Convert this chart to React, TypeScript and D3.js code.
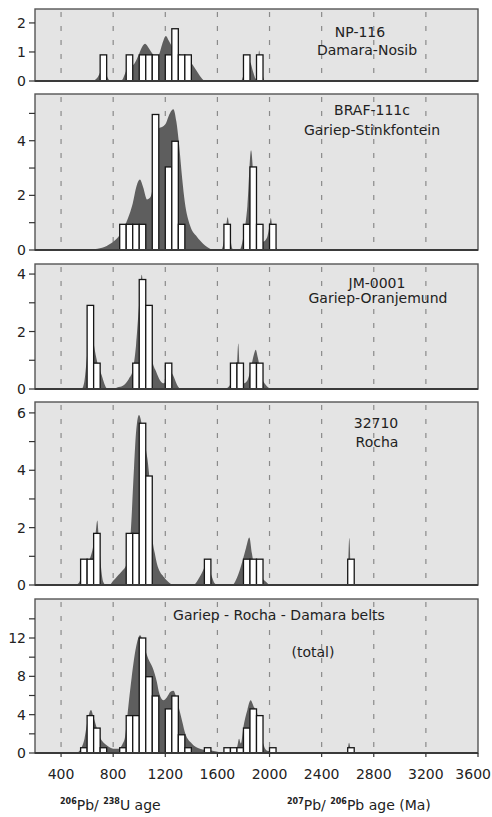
import * as d3 from "d3";
import React from "react";

// age axis (Ma)
const ageTicks = [400, 800, 1200, 1600, 2000, 2400, 2800, 3200, 3600];
const gridAges = [400, 800, 1200, 1600, 2000, 2400, 2800, 3200];
const binWidth = 50;

// NP-116 Damara-Nosib : [bin start, count]
const np116Bars = [
  [700, 0.9], [900, 0.9], [1000, 0.9], [1050, 0.9], [1100, 0.9], [1200, 0.9],
  [1250, 1.8], [1300, 0.9], [1350, 0.9], [1800, 0.9], [1900, 0.9],
];
const np116Density = [
  [650, 0], [700, 0.3], [725, 0.7], [750, 0.2], [780, 0],
  [860, 0], [900, 0.35], [925, 0.6], [950, 0.55], [975, 0.7], [1000, 0.95],
  [1025, 1.2], [1045, 1.28], [1070, 1.15], [1100, 0.95], [1130, 0.85], [1150, 0.9],
  [1175, 1.25], [1205, 1.55], [1225, 1.4], [1250, 1.2], [1300, 0.95], [1350, 0.85],
  [1400, 0.62], [1440, 0.35], [1475, 0.12], [1505, 0],
  [1780, 0], [1820, 0.5], [1850, 0.65], [1875, 0.3], [1895, 0.08], [1910, 0.4],
  [1920, 1.05], [1935, 0.5], [1960, 0],
];

// BRAF-111c Gariep-Stinkfontein
const brafBars = [
  [850, 0.94], [900, 0.94], [950, 0.94], [1000, 0.94], [1100, 4.96], [1200, 3.04],
  [1250, 3.98], [1300, 0.94], [1650, 0.94], [1800, 0.94], [1850, 3.04], [1900, 0.94],
  [2000, 0.94],
];
const brafDensity = [
  [600, 0], [680, 0.05], [750, 0.15], [800, 0.3], [850, 0.55], [900, 1.0], [950, 1.7],
  [980, 2.35], [1005, 2.58], [1030, 2.3], [1060, 1.85], [1080, 1.9], [1100, 2.2],
  [1125, 3.8], [1150, 4.45], [1175, 4.5], [1200, 4.6], [1235, 5.0], [1262, 5.15],
  [1285, 4.7], [1305, 3.9], [1330, 2.6], [1350, 1.75], [1390, 0.9], [1440, 0.5],
  [1490, 0.23], [1530, 0.08], [1570, 0],
  [1630, 0], [1660, 0.6], [1679, 1.2], [1695, 0.6], [1715, 0.05], [1740, 0],
  [1770, 0], [1800, 0.5], [1830, 1.6], [1858, 3.65], [1880, 2.4], [1900, 1.0],
  [1920, 0.45], [1950, 0.3], [1980, 0.45], [2000, 0.9], [2010, 1.17], [2025, 0.6],
  [2050, 0.1], [2070, 0],
];

// JM-0001 Gariep-Oranjemund
const jmBars = [
  [600, 2.91], [650, 0.9], [950, 0.9], [1000, 3.81], [1050, 2.91], [1200, 0.9],
  [1700, 0.9], [1750, 0.9], [1850, 0.9], [1900, 0.9],
];
const jmDensity = [
  [560, 0], [580, 0.3], [600, 1.2], [625, 2.5], [650, 1.6], [680, 0.9], [712, 0.48],
  [740, 0.1], [760, 0],
  [800, 0], [830, 0.05], [880, 0.13], [920, 0.35], [950, 0.65], [975, 1.5],
  [1000, 3.0], [1019, 3.98], [1035, 3.3], [1050, 2.8], [1080, 2.0], [1100, 1.0],
  [1130, 0.6], [1160, 0.3], [1190, 0.2], [1210, 0.35], [1240, 0.6], [1260, 0.48],
  [1290, 0.15], [1320, 0],
  [1650, 0], [1690, 0.1], [1720, 0.3], [1748, 0.6], [1760, 1.58], [1772, 0.6],
  [1800, 0.2], [1830, 0.3], [1860, 0.8], [1880, 1.2], [1894, 1.37], [1910, 1.1],
  [1940, 0.4], [1970, 0.15], [2010, 0],
];

// 32710 Rocha
const rochaBars = [
  [550, 0.9], [600, 0.9], [650, 1.8], [900, 1.8], [950, 1.8], [1000, 5.64],
  [1050, 3.8], [1500, 0.9], [1800, 0.9], [1850, 0.9], [1900, 0.9], [2600, 0.9],
];
const rochaDensity = [
  [510, 0], [540, 0.1], [560, 0.35], [600, 0.7], [640, 1.2], [665, 1.8], [678, 2.25],
  [690, 1.6], [705, 0.7], [725, 0.1], [745, 0],
  [770, 0], [800, 0.15], [830, 0.3], [870, 0.5], [900, 0.7], [920, 1.1], [934, 1.8],
  [960, 4.1], [975, 5.3], [998, 5.93], [1020, 5.6], [1040, 5.0], [1052, 4.7],
  [1075, 3.9], [1100, 1.7], [1120, 1.1], [1135, 0.76], [1160, 0.45], [1185, 0.3],
  [1220, 0.12], [1262, 0],
  [1415, 0], [1460, 0.25], [1497, 0.58], [1520, 0.85], [1553, 0.35], [1580, 0.05],
  [1600, 0],
  [1715, 0], [1750, 0.25], [1790, 0.8], [1820, 1.3], [1845, 1.66], [1865, 1.1],
  [1890, 0.5], [1930, 0.3], [1970, 0.12], [2005, 0],
  [2598, 0], [2612, 1.64], [2624, 0],
];

// Gariep - Rocha - Damara belts (total)
const totalBars = [
  [550, 0.55], [600, 3.9], [650, 2.6], [700, 0.55], [850, 0.55], [900, 3.9],
  [950, 3.9], [1000, 12.0], [1050, 7.96], [1100, 5.95], [1200, 4.6], [1250, 5.95],
  [1300, 1.9], [1350, 0.55], [1500, 0.55], [1650, 0.55], [1700, 0.55], [1750, 0.55],
  [1800, 2.6], [1850, 4.6], [1900, 3.9], [2000, 0.55], [2600, 0.55],
];
const totalDensity = [
  [520, 0], [550, 0.4], [580, 1.5], [605, 3.5], [630, 4.5], [650, 3.7], [670, 2.8],
  [700, 1.6], [725, 1.1], [750, 0.8], [800, 0.45], [840, 0.45], [870, 0.9],
  [891, 1.66], [916, 4.8], [942, 7.9], [975, 11], [1006, 12.3], [1040, 11],
  [1070, 9.8], [1103, 8.9], [1134, 7.5], [1154, 6.2], [1185, 5.5], [1211, 5.8],
  [1240, 6.4], [1262, 6.5], [1285, 5.8], [1303, 4.8], [1330, 3.3], [1354, 2.0],
  [1405, 0.97], [1466, 0.45], [1543, 0.28], [1620, 0.07], [1660, 0],
  [1680, 0], [1720, 0.3], [1750, 0.6], [1766, 1.5], [1780, 1.0], [1799, 2.7],
  [1830, 4.5], [1855, 5.5], [1880, 4.8], [1900, 4.4], [1925, 2.5], [1952, 0.97],
  [1975, 0.3], [2000, 0.2], [2025, 0.4], [2050, 0.1], [2070, 0],
  [2595, 0], [2610, 1.07], [2625, 0],
];

const panels = [
  { id: "np116", bars: np116Bars, density: np116Density, top: 9, bottom: 81, ymax: 2.48,
    major: [0, 1, 2], minor: [],
    titles: [{ t: "NP-116", x: 360, y: 37 }, { t: "Damara-Nosib", x: 367, y: 55 }] },
  { id: "braf", bars: brafBars, density: brafDensity, top: 94, bottom: 250, ymax: 5.71,
    major: [0, 2, 4], minor: [1, 3, 5],
    titles: [{ t: "BRAF-111c", x: 372, y: 115 }, { t: "Gariep-Stinkfontein", x: 372, y: 135 }] },
  { id: "jm", bars: jmBars, density: jmDensity, top: 264, bottom: 389, ymax: 4.35,
    major: [0, 2, 4], minor: [1, 3],
    titles: [{ t: "JM-0001", x: 377, y: 288 }, { t: "Gariep-Oranjemund", x: 378, y: 303 }] },
  { id: "rocha", bars: rochaBars, density: rochaDensity, top: 402, bottom: 585, ymax: 6.38,
    major: [0, 2, 4, 6], minor: [1, 3, 5],
    titles: [{ t: "32710", x: 376, y: 428 }, { t: "Rocha", x: 377, y: 447 }] },
  { id: "total", bars: totalBars, density: totalDensity, top: 599, bottom: 753, ymax: 16.07,
    major: [0, 4, 8, 12], minor: [2, 6, 10, 14],
    titles: [{ t: "Gariep - Rocha - Damara belts", x: 279, y: 620 }, { t: "(total)", x: 313, y: 657 }] },
];

const left = 35;
const right = 478;
const font = "'DejaVu Sans', sans-serif";
const x = d3.scaleLinear().domain([200, 3600]).range([left, right]);

function Panel({ p }) {
  const y = d3.scaleLinear().domain([0, p.ymax]).range([p.bottom, p.top]);
  const area = d3
    .area()
    .x((d) => x(d[0]))
    .y0(y(0))
    .y1((d) => y(d[1]))
    .curve(d3.curveMonotoneX);
  return (
    <g>
      <defs>
        <clipPath id={`clip-${p.id}`}>
          <rect x={left} y={p.top} width={right - left} height={p.bottom - p.top} />
        </clipPath>
      </defs>
      <rect x={left} y={p.top} width={right - left} height={p.bottom - p.top} fill="#e4e4e4" />
      {gridAges.map((a) => (
        <line key={a} x1={x(a)} x2={x(a)} y1={p.top + 3} y2={p.bottom}
          stroke="#8a8a8a" strokeWidth={1.2} strokeDasharray="5,9" />
      ))}
      <g clipPath={`url(#clip-${p.id})`}>
        <path d={area(p.density)} fill="#5e5e5e" />
        {p.bars.map(([a, v]) => (
          <rect key={a} x={x(a)} y={y(v)} width={x(a + binWidth) - x(a)} height={y(0) - y(v)}
            fill="#fff" stroke="#161616" strokeWidth={1.3} />
        ))}
      </g>
      <rect x={left} y={p.top} width={right - left} height={p.bottom - p.top}
        fill="none" stroke="#555" strokeWidth={1.4} />
      <line x1={left} x2={right} y1={p.bottom} y2={p.bottom} stroke="#3a3a3a" strokeWidth={2} />
      {p.major.concat(p.minor).map((v) => (
        <line key={v} x1={left - 6} x2={left} y1={y(v)} y2={y(v)} stroke="#333" strokeWidth={1.2} />
      ))}
      {p.major.map((v) => (
        <text key={v} x={26} y={y(v) + 5} textAnchor="end" fontSize={14} fontFamily={font} fill="#222">
          {v}
        </text>
      ))}
      {p.titles.map((t) => (
        <text key={t.t} x={t.x} y={t.y} textAnchor="middle" fontSize={14} fontFamily={font} fill="#222">
          {t.t}
        </text>
      ))}
    </g>
  );
}

export default function App() {
  const last = panels[panels.length - 1];
  return (
    <svg width={492} height={817} style={{ position: "absolute", left: 0, top: 0, background: "#fff" }}>
      {panels.map((p) => (
        <Panel key={p.id} p={p} />
      ))}
      {ageTicks.map((a, i) => {
        const isLast = i === ageTicks.length - 1;
        return (
          <g key={a}>
            <line x1={x(a)} x2={x(a)} y1={last.bottom} y2={last.bottom + 4} stroke="#333" strokeWidth={1.2} />
            <text x={isLast ? 491 : x(a)} y={779} textAnchor={isLast ? "end" : "middle"}
              fontSize={14} fontFamily={font} fill="#222">
              {a}
            </text>
          </g>
        );
      })}
      <text x={60} y={810} fontSize={14} fontFamily={font} fill="#222">
        <tspan fontSize={8} fontWeight="bold" dy={-6}>206</tspan>
        <tspan dy={6}>Pb/ </tspan>
        <tspan fontSize={8} fontWeight="bold" dy={-6}>238</tspan>
        <tspan dy={6}>U age</tspan>
      </text>
      <text x={287} y={810} fontSize={14} fontFamily={font} fill="#222">
        <tspan fontSize={8} fontWeight="bold" dy={-6}>207</tspan>
        <tspan dy={6}>Pb/ </tspan>
        <tspan fontSize={8} fontWeight="bold" dy={-6}>206</tspan>
        <tspan dy={6}>Pb age (Ma)</tspan>
      </text>
    </svg>
  );
}
